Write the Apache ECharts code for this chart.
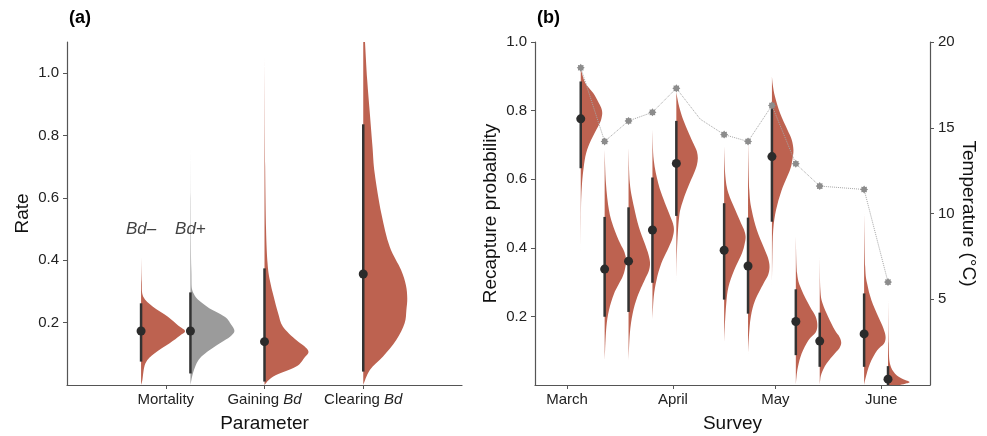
<!DOCTYPE html>
<html>
<head>
<meta charset="utf-8">
<title>Rates and recapture probability</title>
<script src="https://cdn.jsdelivr.net/npm/echarts@6/dist/echarts.min.js"></script>
</head>
<body style="margin:0">
<div id="main" style="width:987px;height:436px;"></div>
<script type="text/javascript">
// ---- panel (a): rates ----
var paramTicks = [1, 2, 3];
var paramNames = ['Mortality', 'Gaining Bd', 'Clearing Bd'];
var paramX = [0.75, 1.25, 2, 3];            // Bd-, Bd+, gaining, clearing
var paramMedian = [0.173, 0.173, 0.139, 0.356];
var paramLow = [0.075, 0.037, 0.011, 0.043];
var paramHigh = [0.262, 0.297, 0.374, 0.836];
// density outline: [rate, relative density]
var paramDensity = [
    [[0, 0], [0.016, 0.03], [0.07, 0.1], [0.102, 0.31], [0.134, 0.65], [0.158, 0.88], [0.173, 1], [0.19, 0.85], [0.219, 0.61], [0.251, 0.27], [0.283, 0.05], [0.33, 0.015], [0.41, 0]],
    [[0, 0], [0.048, 0.08], [0.091, 0.25], [0.134, 0.67], [0.155, 0.9], [0.173, 1], [0.195, 0.92], [0.219, 0.78], [0.251, 0.38], [0.294, 0.07], [0.37, 0.02], [0.6, 0.006], [0.9, 0]],
    [[0, 0], [0.027, 0.2], [0.059, 0.72], [0.09, 0.92], [0.107, 1], [0.125, 0.9], [0.144, 0.72], [0.187, 0.42], [0.23, 0.31], [0.283, 0.21], [0.337, 0.12], [0.39, 0.07], [0.5, 0.035], [0.7, 0.015], [1.05, 0]],
    [[0, 0], [0.048, 0.15], [0.091, 0.45], [0.144, 0.75], [0.198, 0.94], [0.24, 0.98], [0.278, 1], [0.32, 0.97], [0.369, 0.86], [0.444, 0.6], [0.551, 0.41], [0.679, 0.26], [0.764, 0.21], [0.871, 0.15], [0.978, 0.09], [1.1, 0.04]]
];
var groupLabels = ['Bd\u2013', 'Bd+'];

// ---- panel (b): recapture by survey (days since 1 March) ----
var monthTicks = [0, 31, 61, 92];
var monthNames = ['March', 'April', 'May', 'June'];
var surveyDay = [4, 11, 18, 25, 32, 46, 53, 60, 67, 74, 87, 94];
var recapMedian = [0.776, 0.338, 0.361, 0.452, 0.646, 0.393, 0.347, 0.666, 0.185, 0.128, 0.149, 0.017];
var recapLow = [0.632, 0.199, 0.213, 0.298, 0.493, 0.249, 0.208, 0.476, 0.087, 0.053, 0.053, 0.0];
var recapHigh = [0.885, 0.49, 0.518, 0.605, 0.77, 0.53, 0.488, 0.822, 0.279, 0.211, 0.267, 0.055];
var recapDensity = [
    [[0.39, 0], [0.49, 0.01], [0.54, 0.02], [0.588, 0.06], [0.636, 0.14], [0.676, 0.25], [0.714, 0.48], [0.753, 0.8], [0.772, 0.94], [0.792, 1], [0.808, 0.95], [0.822, 0.84], [0.851, 0.58], [0.88, 0.22], [0.91, 0.05], [0.93, 0]],
    [[0.07, 0], [0.101, 0.02], [0.169, 0.08], [0.218, 0.2], [0.267, 0.44], [0.315, 0.83], [0.34, 0.95], [0.364, 1], [0.388, 0.92], [0.413, 0.72], [0.461, 0.41], [0.51, 0.2], [0.588, 0.06], [0.685, 0]],
    [[0.07, 0], [0.15, 0.06], [0.208, 0.19], [0.257, 0.41], [0.306, 0.75], [0.33, 0.93], [0.354, 1], [0.38, 0.93], [0.413, 0.75], [0.461, 0.48], [0.52, 0.25], [0.588, 0.06], [0.69, 0]],
    [[0.19, 0], [0.257, 0.06], [0.306, 0.19], [0.354, 0.41], [0.403, 0.77], [0.428, 0.93], [0.452, 1], [0.472, 0.95], [0.49, 0.84], [0.539, 0.53], [0.588, 0.27], [0.656, 0.06], [0.744, 0]],
    [[0.3, 0], [0.393, 0.03], [0.49, 0.13], [0.539, 0.32], [0.578, 0.55], [0.617, 0.82], [0.64, 0.95], [0.661, 1], [0.68, 0.96], [0.695, 0.86], [0.734, 0.58], [0.773, 0.32], [0.812, 0.13], [0.846, 0.02], [0.86, 0]],
    [[0.12, 0], [0.169, 0.03], [0.238, 0.1], [0.286, 0.2], [0.335, 0.47], [0.384, 0.83], [0.41, 0.95], [0.432, 1], [0.452, 0.93], [0.471, 0.79], [0.51, 0.52], [0.559, 0.2], [0.607, 0.06], [0.695, 0]],
    [[0.09, 0], [0.14, 0.04], [0.199, 0.13], [0.247, 0.33], [0.296, 0.72], [0.32, 0.93], [0.344, 1], [0.37, 0.93], [0.403, 0.72], [0.452, 0.41], [0.51, 0.17], [0.568, 0.06], [0.71, 0]],
    [[0.29, 0], [0.374, 0.02], [0.452, 0.06], [0.51, 0.19], [0.568, 0.45], [0.627, 0.84], [0.657, 0.95], [0.685, 1], [0.715, 0.92], [0.744, 0.72], [0.792, 0.38], [0.841, 0.14], [0.875, 0.04], [0.9, 0]],
    [[0, 0], [0.023, 0.03], [0.053, 0.1], [0.092, 0.27], [0.13, 0.58], [0.153, 0.92], [0.175, 1], [0.2, 0.92], [0.228, 0.66], [0.277, 0.27], [0.325, 0.06], [0.432, 0]],
    [[0, 0], [0.014, 0.02], [0.033, 0.08], [0.062, 0.31], [0.092, 0.7], [0.108, 0.92], [0.123, 1], [0.14, 0.92], [0.16, 0.7], [0.199, 0.39], [0.238, 0.13], [0.277, 0.03], [0.374, 0]],
    [[0, 0], [0.023, 0.08], [0.062, 0.27], [0.101, 0.61], [0.12, 0.92], [0.14, 1], [0.165, 0.9], [0.199, 0.66], [0.247, 0.34], [0.296, 0.14], [0.345, 0.05], [0.5, 0]],
    [[0, 0.5], [0.004, 0.8], [0.009, 1], [0.019, 0.64], [0.033, 0.33], [0.062, 0.09], [0.121, 0.03], [0.25, 0]]
];
var tempDay = [4, 11, 18, 25, 32, 39, 46, 53, 60, 67, 74, 87, 94];
var tempC = [18.5, 14.2, 15.4, 15.9, 17.3, 15.5, 14.6, 14.2, 16.3, 12.9, 11.6, 11.4, 6.0];

var RED = '#bd6250';
var GREY = '#9b9b9b';
var INK = '#2b2b2b';
var FONT = 'Liberation Sans';
var star = 'path://M0,-10L2.7,-6.5L7.07,-7.07L6.5,-2.7L10,0L6.5,2.7L7.07,7.07L2.7,6.5L0,10L-2.7,6.5L-7.07,7.07L-6.5,2.7L-10,0L-6.5,-2.7L-7.07,-7.07L-2.7,-6.5Z';

// outline through the points as a Catmull-Rom curve, closed back along the centre line
function outlinePath(pts, cx) {
    var d = 'M' + cx + ',' + pts[0][1] + 'L' + pts[0][0] + ',' + pts[0][1];
    for (var k = 0; k < pts.length - 1; k++) {
        var p0 = pts[Math.max(k - 1, 0)], p1 = pts[k], p2 = pts[k + 1], p3 = pts[Math.min(k + 2, pts.length - 1)];
        var c1x = Math.max(cx, p1[0] + (p2[0] - p0[0]) / 6), c1y = p1[1] + (p2[1] - p0[1]) / 6;
        var c2x = Math.max(cx, p2[0] - (p3[0] - p1[0]) / 6), c2y = p2[1] - (p3[1] - p1[1]) / 6;
        d += 'C' + c1x + ',' + c1y + ',' + c2x + ',' + c2y + ',' + p2[0] + ',' + p2[1];
    }
    d += 'L' + cx + ',' + pts[pts.length - 1][1] + 'Z';
    return d;
}

// half-violin: density outline to the right of the x position, interval bar and median dot
function halfEye(profiles, maxWidth, colorOf) {
    return function (params, api) {
        var i = params.dataIndex;
        var x = api.value(0);
        var cx = api.coord([x, 0])[0];
        var pts = profiles[i].map(function (p) {
            var c = api.coord([x, p[0]]);
            return [c[0] + p[1] * maxWidth, c[1]];
        });
        var mid = api.coord([x, api.value(1)]);
        var lo = api.coord([x, api.value(2)]);
        var hi = api.coord([x, api.value(3)]);
        return {
            type: 'group',
            children: [
                { type: 'path', shape: { pathData: outlinePath(pts, cx) },
                  style: { fill: colorOf(i), stroke: null } },
                { type: 'line', shape: { x1: lo[0], y1: lo[1], x2: hi[0], y2: hi[1] },
                  style: { stroke: '#333', lineWidth: 2.5 } },
                { type: 'circle', shape: { cx: mid[0], cy: mid[1], r: 4.5 },
                  style: { fill: INK } }
            ]
        };
    };
}

function valueAxis(opts) {
    var base = {
        type: 'value',
        nameLocation: 'middle',
        nameTextStyle: { fontSize: 19, color: '#111', fontFamily: FONT },
        axisLine: { show: true, onZero: false, lineStyle: { color: '#555', width: 1.2 } },
        axisTick: { show: true, length: 4, lineStyle: { color: '#555' } },
        axisLabel: { fontSize: 15, color: '#222', fontFamily: FONT, margin: 8 },
        splitLine: { show: false }
    };
    for (var k in opts) {
        if (typeof opts[k] === 'object' && base[k] && !Array.isArray(opts[k])) {
            base[k] = Object.assign({}, base[k], opts[k]);
        } else {
            base[k] = opts[k];
        }
    }
    return base;
}

var myChart = echarts.init(document.getElementById('main'), null, { renderer: 'canvas' });
myChart.setOption({
    animation: false,
    backgroundColor: '#fff',
    title: [
        { text: '(a)', left: 64, top: 4, textStyle: { fontSize: 18, fontWeight: 'bold', color: '#000', fontFamily: FONT } },
        { text: '(b)', left: 532, top: 4, textStyle: { fontSize: 18, fontWeight: 'bold', color: '#000', fontFamily: FONT } }
    ],
    grid: [
        { left: 67, right: 525, top: 42, bottom: 51, outerBoundsMode: 'none' },
        { left: 535, right: 57, top: 42, bottom: 51, outerBoundsMode: 'none' }
    ],
    xAxis: [
        valueAxis({
            gridIndex: 0, min: 0, max: 4, name: 'Parameter', nameGap: 29,
            axisTick: { customValues: paramTicks },
            axisLabel: {
                customValues: paramTicks, margin: 7,
                formatter: function (v) {
                    var n = paramNames[paramTicks.indexOf(v)] || '';
                    return n.replace(' Bd', ' {i|Bd}');
                },
                rich: { i: { fontStyle: 'italic', fontSize: 15, color: '#222', fontFamily: FONT } }
            }
        }),
        valueAxis({
            gridIndex: 1, min: -9.4, max: 106.3, name: 'Survey', nameGap: 29,
            axisTick: { customValues: monthTicks },
            axisLabel: {
                customValues: monthTicks, margin: 7,
                formatter: function (v) { return monthNames[monthTicks.indexOf(v)] || ''; }
            }
        })
    ],
    yAxis: [
        valueAxis({
            gridIndex: 0, min: 0, max: 1.1, name: 'Rate', nameGap: 35,
            axisTick: { customValues: [0.2, 0.4, 0.6, 0.8, 1.0] },
            axisLabel: { customValues: [0.2, 0.4, 0.6, 0.8, 1.0], formatter: function (v) { return v.toFixed(1); } }
        }),
        valueAxis({
            gridIndex: 1, min: 0, max: 1, name: 'Recapture probability', nameGap: 35,
            axisTick: { customValues: [0.2, 0.4, 0.6, 0.8, 1.0] },
            axisLabel: { customValues: [0.2, 0.4, 0.6, 0.8, 1.0], formatter: function (v) { return v.toFixed(1); } }
        }),
        valueAxis({
            gridIndex: 1, position: 'right', min: 0, max: 20, name: 'Temperature (\u00B0C)', nameGap: 28, nameRotate: -90,
            axisTick: { customValues: [5, 10, 15, 20] },
            axisLabel: { customValues: [5, 10, 15, 20] }
        })
    ],
    series: [
        {
            type: 'custom', xAxisIndex: 0, yAxisIndex: 0, z: 2,
            data: paramX.map(function (x, i) { return [x, paramMedian[i], paramLow[i], paramHigh[i]]; }),
            encode: { x: 0, y: 1 },
            renderItem: halfEye(paramDensity, 44, function (i) { return i === 1 ? GREY : RED; })
        },
        {
            type: 'scatter', xAxisIndex: 0, yAxisIndex: 0, symbolSize: 0.1, z: 3,
            itemStyle: { color: 'transparent' },
            data: groupLabels.map(function (t, i) { return { value: [paramX[i], 0.5], name: t }; }),
            label: {
                show: true, position: 'inside', formatter: '{b}',
                fontSize: 17, fontStyle: 'italic', color: '#111', fontFamily: FONT
            }
        },
        {
            type: 'custom', xAxisIndex: 1, yAxisIndex: 1, z: 2,
            data: surveyDay.map(function (d, i) { return [d, recapMedian[i], recapLow[i], recapHigh[i]]; }),
            encode: { x: 0, y: 1 },
            renderItem: halfEye(recapDensity, 21.5, function () { return RED; })
        },
        {
            type: 'line', xAxisIndex: 1, yAxisIndex: 2, z: 4,
            data: tempDay.map(function (d, i) {
                return { value: [d, tempC[i]], symbol: surveyDay.indexOf(d) < 0 ? 'none' : star };
            }),
            symbolSize: 8,
            itemStyle: { color: '#8c8c8c' },
            lineStyle: { type: 'dotted', color: '#a6a6a6', width: 1 }
        }
    ]
});
</script>
</body>
</html>
